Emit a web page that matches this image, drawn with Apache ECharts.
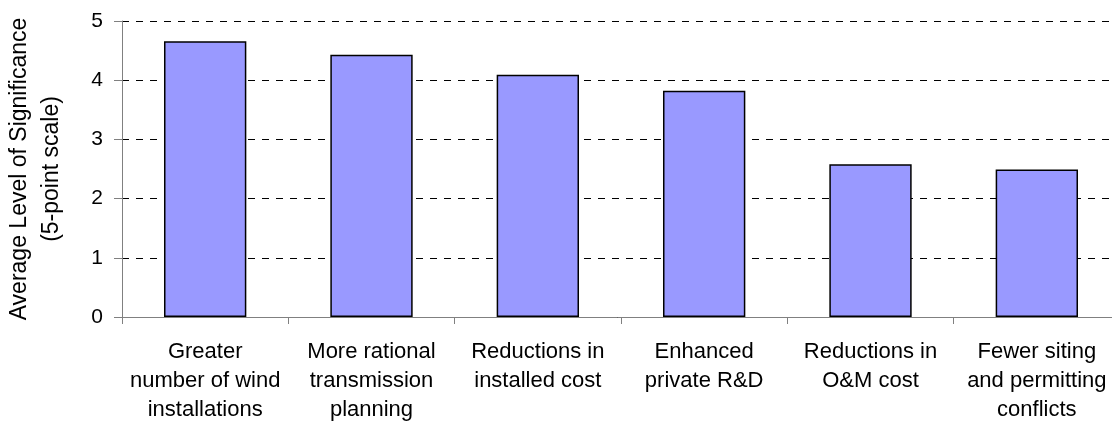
<!DOCTYPE html>
<html>
<head>
<meta charset="utf-8">
<script src="https://cdn.jsdelivr.net/npm/echarts@6/dist/echarts.min.js"></script>
<style>
  html, body { margin: 0; padding: 0; background: #fff; }
  #chart { width: 1112px; height: 422px; }
</style>
</head>
<body>
<div id="chart"></div>
<script>
// Drivers of wind power growth, rated on a 5-point significance scale
const categories = [
  'Greater\nnumber of wind\ninstallations',
  'More rational\ntransmission\nplanning',
  'Reductions in\ninstalled cost',
  'Enhanced\nprivate R&D',
  'Reductions in\nO&M cost',
  'Fewer siting\nand permitting\nconflicts'
];
const significance = [4.66, 4.43, 4.09, 3.82, 2.58, 2.49];
const yTicks = [0, 1, 2, 3, 4, 5];

const FONT = 'Liberation Sans, Arial, sans-serif';
const AXIS_GREY = '#808080';

const chart = echarts.init(document.getElementById('chart'), null, { renderer: 'canvas' });
chart.setOption({
  animation: false,
  backgroundColor: '#ffffff',
  grid: {
    left: 122, right: -8, top: 21, bottom: 105,
    containLabel: false,
    outerBoundsMode: 'none'
  },
  xAxis: {
    type: 'category',
    data: categories,
    boundaryGap: true,
    axisLine: { show: true, lineStyle: { color: AXIS_GREY, width: 1 } },
    axisTick: { show: true, length: 7, alignWithLabel: false, lineStyle: { color: AXIS_GREY } },
    axisLabel: {
      color: '#000', fontFamily: FONT, fontSize: 22, lineHeight: 29,
      margin: 20, interval: 0, align: 'center', hideOverlap: false
    },
    splitLine: { show: false }
  },
  yAxis: {
    type: 'value',
    min: yTicks[0],
    max: yTicks[yTicks.length - 1],
    interval: 1,
    name: 'Average Level of Significance\n(5-point scale)',
    nameLocation: 'middle',
    nameGap: 54,
    nameRotate: 90,
    nameTextStyle: { color: '#000', fontFamily: FONT, fontSize: 23, lineHeight: 32, align: 'center' },
    axisLine: { show: true, lineStyle: { color: AXIS_GREY, width: 1 } },
    axisTick: { show: true, length: 8, lineStyle: { color: AXIS_GREY } },
    axisLabel: { color: '#000', fontFamily: FONT, fontSize: 21, margin: 19 },
    splitLine: { show: true, lineStyle: { color: '#000', width: 1, type: [7, 7] } }
  },
  series: [{
    type: 'bar',
    data: significance,
    barWidth: '49.5%',
    itemStyle: { color: '#9999FF', borderColor: '#000', borderWidth: 1.5 },
    z: 3
  }]
});
</script>
</body>
</html>
